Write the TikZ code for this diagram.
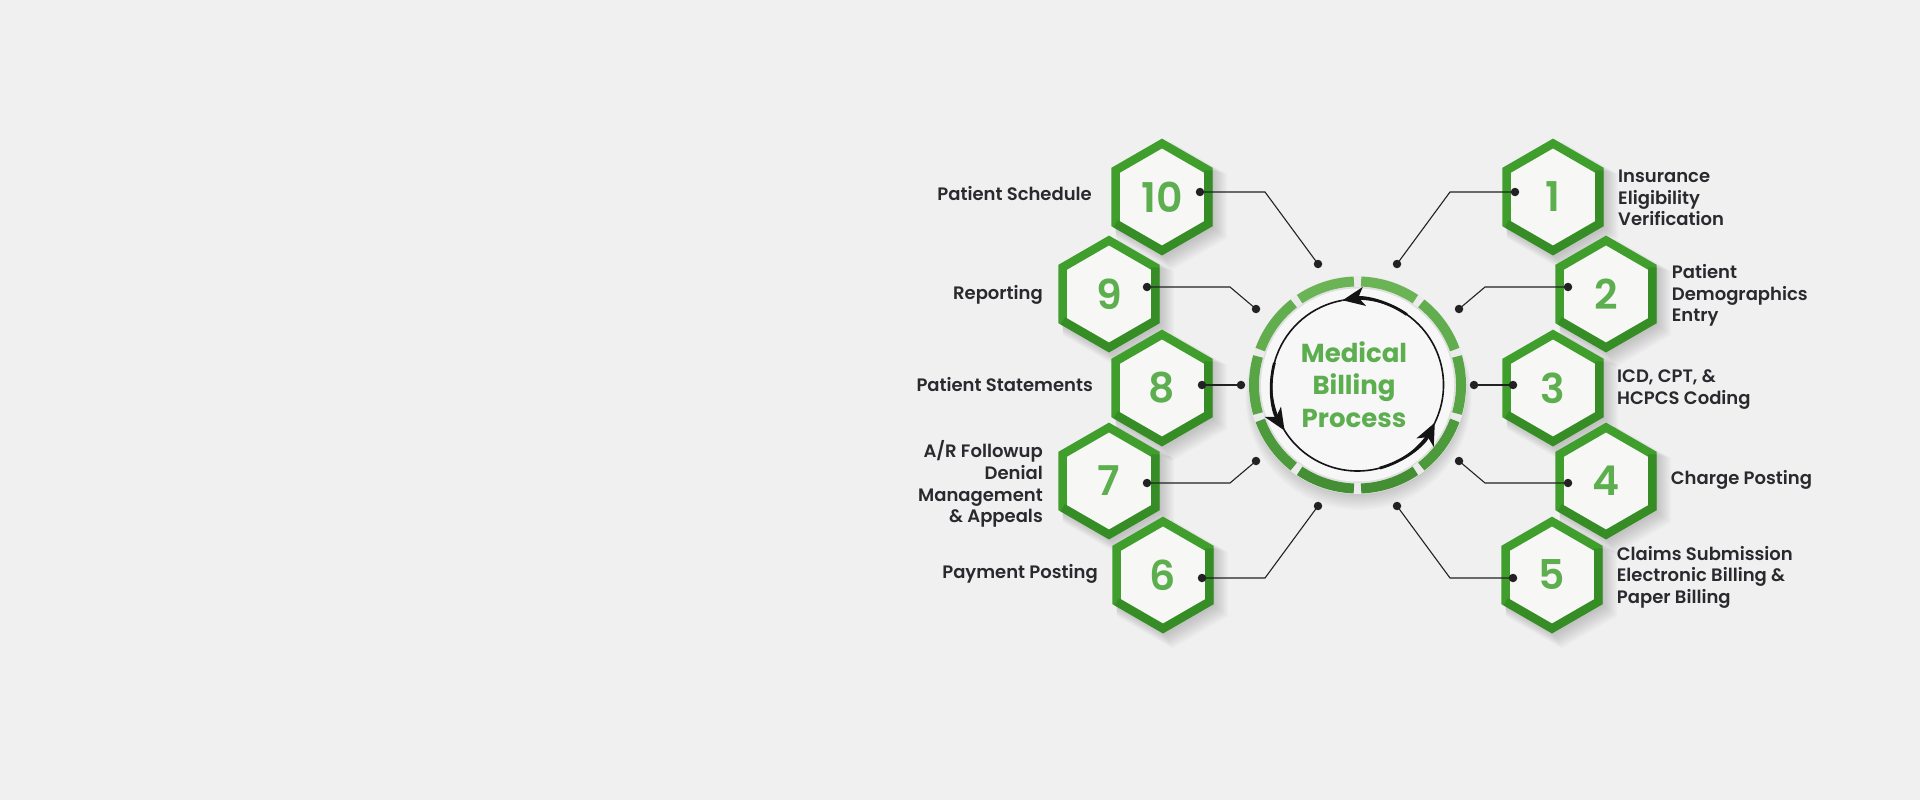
\documentclass[tikz,border=0pt]{standalone}
\usepackage{fontspec}
\setmainfont{Poppins}
\newfontfamily\semifont{Poppins SemiBold}
\usetikzlibrary{arrows.meta,shapes.geometric}
\definecolor{bg}{HTML}{F0F0F1}
\definecolor{hexgreen}{HTML}{3F9E2C}
\definecolor{hexdark}{HTML}{2C7A1F}
\definecolor{numgreen}{HTML}{5CAE4F}
\definecolor{cgreen}{HTML}{5CAE4F}
\definecolor{txt}{HTML}{2A2A2E}
\definecolor{hexfill}{HTML}{F7F7F5}
\definecolor{dotc}{HTML}{222224}
\definecolor{segA}{HTML}{6BB455}
\definecolor{segB}{HTML}{62AD4E}
\definecolor{segC}{HTML}{58A546}
\definecolor{segD}{HTML}{4D9A3C}
\definecolor{segE}{HTML}{448F34}
\newcommand\lblfont{\fontsize{18}{21.7}\selectfont\semifont}
\newcommand\numfont{\fontsize{41}{41}\selectfont\semifont}
\newcommand\hexshadow[1]{%
  \foreach \k in {1,...,8}{%
    \fill[black,opacity=0.022] ([shift={(1.5+1.0*\k,2+0.9*\k)}]#1) +(90:56+\k) -- +(150:56+\k) -- +(210:56+\k) -- +(270:56+\k) -- +(330:56+\k) -- +(30:56+\k) -- cycle;}}
\newcommand\hexdarken[1]{%
  \draw[hexdark, line width=8.5pt, opacity=0.45, line join=miter]
    ([shift={(-30:53.5)}]#1) -- ([shift={(30:53.5)}]#1) -- ([shift={(90:53.5)}]#1) -- ([shift={(150:53.5)}]#1);}
\begin{document}
\begin{tikzpicture}[x=1pt,y=-1pt,
  hexnode/.style={regular polygon, regular polygon sides=6, shape border rotate=30,
    minimum size=107pt, inner sep=0pt, outer sep=0pt, draw=hexgreen, line width=8.5pt,
    fill=hexfill, line join=miter},
  numnode/.style={font=\numfont, text=numgreen, inner sep=0pt},
  dotnode/.style={circle, fill=dotc, inner sep=0pt, minimum size=8.5pt},
  conn/.style={draw=dotc, line width=1.1pt},
  lbl/.style={font=\lblfont, text=txt, inner sep=0pt},
  seg/.style={line width=10pt},
  ring arrow/.style={draw=black!92, line width=1.6pt},
  ring arrow thick/.style={draw=black!92, line width=2.8pt, -{Stealth[length=22pt,width=19pt,inset=6pt]}}
]
% background
\fill[bg] (0,0) rectangle (1920,800);
\useasboundingbox (0,0) rectangle (1920,800);

% centre
\coordinate (c) at (1357.5,385);
\foreach \k in {1,...,9}{\fill[black,opacity=0.018] ([shift={(1,3+\k)}]c) circle[radius=104+\k];}
\fill[white!92!black] (c) circle[radius=109];
\foreach \t/\col in {0/segC,-36/segB,-72/segA,-108/segA,-144/segB,-180/segC,-216/segD,-252/segE,-288/segE,-324/segD}{
  \draw[seg,\col] ([shift={(\t-16:103.5)}]c) arc[start angle=\t-16, end angle=\t+16, radius=103.5];
}
\fill[black,opacity=0.05] (c) circle[radius=98];
\fill[white!97!black] (c) circle[radius=96.5];

% circular arrows (screen angles counter-clockwise)
\draw[ring arrow] ([shift={(26:86)}]c) arc[start angle=26, end angle=-100, radius=86];
\draw[ring arrow] ([shift={(-100:86)}]c) arc[start angle=-100, end angle=-212, radius=86];
\draw[ring arrow] ([shift={(-212:86)}]c) arc[start angle=-212, end angle=-334, radius=86];
\draw[ring arrow thick] ([shift={(-55:86)}]c) arc[start angle=-55, end angle=-100, radius=86];
\draw[ring arrow thick] ([shift={(-165:86)}]c) arc[start angle=-165, end angle=-212, radius=86];
\draw[ring arrow thick] ([shift={(-285:86)}]c) arc[start angle=-285, end angle=-334, radius=86];

\node[font=\fontsize{26}{32.5}\selectfont\bfseries, text=cgreen, anchor=base, inner sep=0pt] (title) at (1354,362)
  {\begin{tabular}[t]{@{}c@{}}Medical\\Billing\\Process\end{tabular}};

% hexagon centres
\coordinate (c10) at (1162,197);
\coordinate (c9) at (1109,294);
\coordinate (c8) at (1162,388);
\coordinate (c7) at (1109,481);
\coordinate (c6) at (1163,575);
\coordinate (c1) at (1553,197);
\coordinate (c2) at (1606,294);
\coordinate (c3) at (1553,388);
\coordinate (c4) at (1606,481);
\coordinate (c5) at (1552,575);

\foreach \n in {10,9,8,7,6,1,2,3,4,5}{\hexshadow{c\n}}
\foreach \n in {10,9,8,7,6,1,2,3,4,5}{
  \node[hexnode] (h\n) at (c\n) {};
  \hexdarken{c\n}
  \node[numnode] (n\n) at (c\n) {\n};
}

% dots inside hexagons
\node[dotnode] (d10) at (1200,192) {};
\node[dotnode] (d9) at (1147,287) {};
\node[dotnode] (d8) at (1202,385) {};
\node[dotnode] (d7) at (1147,483) {};
\node[dotnode] (d6) at (1202,578) {};
\node[dotnode] (d1) at (1515,192) {};
\node[dotnode] (d2) at (1568,287) {};
\node[dotnode] (d3) at (1513,385) {};
\node[dotnode] (d4) at (1568,483) {};
\node[dotnode] (d5) at (1513,578) {};
% dots around the ring
\node[dotnode] (r10) at (1318,264) {};
\node[dotnode] (r9) at (1256,309) {};
\node[dotnode] (r8) at (1241,385) {};
\node[dotnode] (r7) at (1256,461) {};
\node[dotnode] (r6) at (1318,506) {};
\node[dotnode] (r1) at (1397,264) {};
\node[dotnode] (r2) at (1459,309) {};
\node[dotnode] (r3) at (1474,385) {};
\node[dotnode] (r4) at (1459,461) {};
\node[dotnode] (r5) at (1397,506) {};
% elbows
\coordinate (e10) at (1265,192);
\coordinate (e9) at (1230,287);
\coordinate (e7) at (1230,483);
\coordinate (e6) at (1265,578);
\coordinate (e1) at (1450,192);
\coordinate (e2) at (1485,287);
\coordinate (e4) at (1485,483);
\coordinate (e5) at (1450,578);

\draw[conn] (d10.center) -- (e10) -- (r10.center);
\draw[conn] (d9.center) -- (e9) -- (r9.center);
\draw[conn] (d8.center) -- (r8.center);
\draw[conn] (d7.center) -- (e7) -- (r7.center);
\draw[conn] (d6.center) -- (e6) -- (r6.center);
\draw[conn] (d1.center) -- (e1) -- (r1.center);
\draw[conn] (d2.center) -- (e2) -- (r2.center);
\draw[conn] (d3.center) -- (r3.center);
\draw[conn] (d4.center) -- (e4) -- (r4.center);
\draw[conn] (d5.center) -- (e5) -- (r5.center);

% labels left
\node[lbl, anchor=base east] (t10) at (1092,200.7) {Patient Schedule};
\node[lbl, anchor=base east] (t9) at (1043,299) {Reporting};
\node[lbl, anchor=base east] (t8) at (1093,391.7) {Patient Statements};
\node[lbl, anchor=base east] (t7) at (1043,457.7)
  {\begin{tabular}[t]{@{}r@{}}A/R Followup\\Denial\\Management\\\& Appeals\end{tabular}};
\node[lbl, anchor=base east] (t6) at (1098,578.3) {Payment Posting};
% labels right
\node[lbl, anchor=base west] (t1) at (1618,182.3)
  {\begin{tabular}[t]{@{}l@{}}Insurance\\Eligibility\\Verification\end{tabular}};
\node[lbl, anchor=base west] (t2) at (1671.7,278.3)
  {\begin{tabular}[t]{@{}l@{}}Patient\\Demographics\\Entry\end{tabular}};
\node[lbl, anchor=base west] (t3) at (1617,382.3)
  {\begin{tabular}[t]{@{}l@{}}ICD, CPT, \&\\HCPCS Coding\end{tabular}};
\node[lbl, anchor=base west] (t4) at (1670.7,484) {Charge Posting};
\node[lbl, anchor=base west] (t5) at (1616.7,560)
  {\begin{tabular}[t]{@{}l@{}}Claims Submission\\Electronic Billing \&\\Paper Billing\end{tabular}};
\end{tikzpicture}
\end{document}
